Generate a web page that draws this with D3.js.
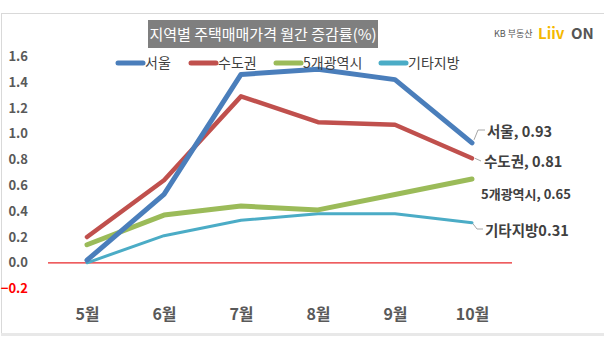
<!DOCTYPE html>
<html><head><meta charset="utf-8">
<script src="https://cdn.jsdelivr.net/npm/d3@7"></script>
<style>html,body{margin:0;padding:0;background:#fff;}svg{display:block;}</style>
</head><body>
<script>
const months = ["5월","6월","7월","8월","9월","10월"];
const seoul = [0.02, 0.53, 1.46, 1.50, 1.42, 0.93];
const capital = [0.20, 0.64, 1.29, 1.09, 1.07, 0.81];
const metro5 = [0.14, 0.37, 0.44, 0.41, 0.53, 0.65];
const others = [0.00, 0.21, 0.33, 0.38, 0.38, 0.31];
const seriesNames = ["서울","수도권","5개광역시","기타지방"];
const yTicks = [-0.2,0,0.2,0.4,0.6,0.8,1.0,1.2,1.4,1.6];
const endLabels = ["서울, 0.93","수도권, 0.81","5개광역시, 0.65","기타지방0.31"];
const title = "지역별 주택매매가격 월간 증감률(%)";

const W=604,H=348;
const svg=d3.select("body").append("svg").attr("width",W).attr("height",H);
const font="'Noto Sans CJK KR','Noto Sans',sans-serif";
// frame
svg.append("rect").attr("x",1.5).attr("y",13.5).attr("width",W).attr("height",320).attr("fill","#fff").attr("stroke","#d9d9d9");
svg.append("rect").attr("x",1).attr("y",333).attr("width",W).attr("height",3).attr("fill","#e8e8e8");

const x=d3.scalePoint().domain(months).range([87,472]);
const y=d3.scaleLinear().domain([-0.2,1.6]).range([288.6,56.4]);

// title
svg.append("rect").attr("x",148).attr("y",20).attr("width",230).attr("height",28).attr("fill","#7f7f7f");
svg.append("text").attr("x",263).attr("y",40).attr("text-anchor","middle").attr("fill","#fff")
  .attr("font-family",font).attr("font-size",15).text(title);

// logo
const lg=svg.append("g").attr("font-family",font);
lg.append("text").attr("x",494).attr("y",37).attr("font-size",9).attr("fill","#555").text("KB 부동산");
lg.append("text").attr("x",538).attr("y",39).attr("font-size",15).attr("font-weight","bold").attr("fill","#f5b800").text("Liiv");
lg.append("text").attr("x",571).attr("y",39).attr("font-size",15).attr("font-weight","bold").attr("fill","#555").text("ON");

// y axis labels
const yAxis=d3.axisLeft(y).tickValues(yTicks).tickSize(0).tickFormat(d3.format(".1f"));
const ya=svg.append("g").attr("transform","translate(31,0)").call(yAxis);
ya.select(".domain").remove();
ya.selectAll("text").attr("font-family",font).attr("font-size",13).attr("font-weight","bold")
  .attr("fill",d=>d<0?"#ff0000":"#595959");

// zero line
svg.append("line").attr("x1",48).attr("x2",512).attr("y1",y(0)).attr("y2",y(0)).attr("stroke","#e8272a").attr("stroke-width",1.2);

// x axis labels
const xAxis=d3.axisBottom(x).tickSize(0);
const xa=svg.append("g").attr("transform","translate(0,306)").call(xAxis);
xa.select(".domain").remove();
xa.selectAll("text").attr("font-family",font).attr("font-size",16).attr("font-weight","bold").attr("fill","#595959");

const data=[seoul,capital,metro5,others];
const colors=["#4a7ebb","#c0504d","#9bbb59","#4bacc6"];
const widths=[5,4.5,5,3];
const line=d3.line().x((d,i)=>x(months[i])).y(d=>y(d));
[3,2,1,0].forEach(k=>{
  svg.append("path").datum(data[k]).attr("d",line).attr("fill","none").attr("stroke",colors[k])
    .attr("stroke-width",widths[k]).attr("stroke-linecap","round").attr("stroke-linejoin","round");
});

// legend
const legX=[118,191,276,381];
seriesNames.forEach((n,k)=>{
  svg.append("line").attr("x1",legX[k]).attr("x2",legX[k]+25).attr("y1",63).attr("y2",63)
    .attr("stroke",colors[k]).attr("stroke-width",5).attr("stroke-linecap","round");
  svg.append("text").attr("x",legX[k]+27).attr("y",68).attr("font-family",font).attr("font-size",14)
    .attr("fill","#404040").text(n);
});

// end labels with leader lines
const lastX=x(months[5]);
const lab=[{dx:487,dy:137,lead:[[lastX+2,y(seoul[5])-3],[478,130],[485,130]]},
  {dx:484,dy:167,lead:[[lastX+3,y(capital[5])],[481,161]]},
  {dx:481,dy:199,lead:null},
  {dx:485,dy:236,lead:[[lastX+1,y(others[5])+1],[477,229],[483,229]]}];
lab.forEach((l,k)=>{
  if(l.lead) svg.append("path").attr("d",d3.line()(l.lead)).attr("fill","none").attr("stroke","#a6a6a6").attr("stroke-width",1);
  svg.append("text").attr("x",l.dx).attr("y",l.dy).attr("font-family",font).attr("font-size",k==2?13:14.5)
    .attr("font-weight","bold").attr("fill","#404040").text(endLabels[k]);
});
</script>
</body></html>
